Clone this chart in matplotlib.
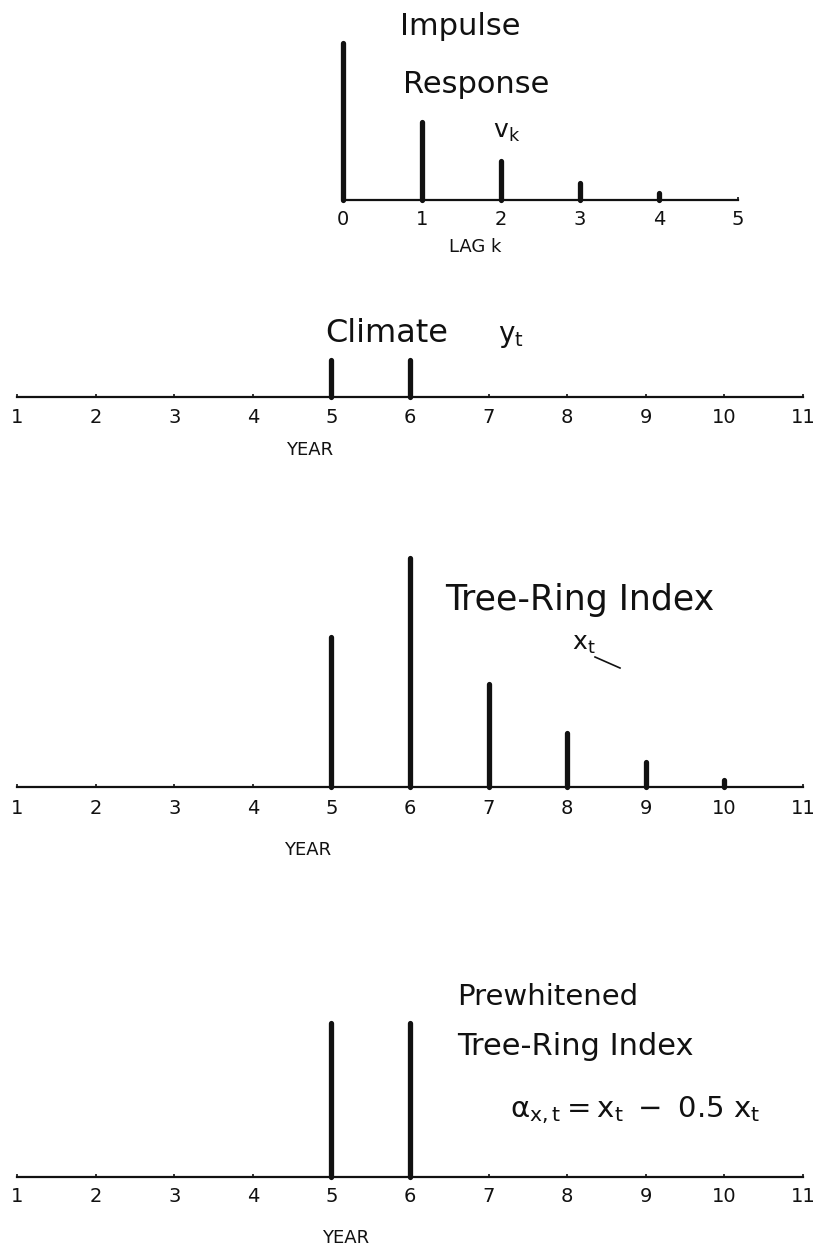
import matplotlib
matplotlib.use("Agg")
import matplotlib.pyplot as plt
from matplotlib.lines import Line2D

plt.rcParams['font.family'] = ['DejaVu Sans']
plt.rcParams['mathtext.fontset'] = 'dejavusans'
plt.rcParams['mathtext.default'] = 'regular'

# impulse response weights v_k
lags = [0, 1, 2, 3, 4]
impulse = [1.0, 0.5, 0.25, 0.11, 0.045]

# yearly series
years = [1, 2, 3, 4, 5, 6, 7, 8, 9, 10]
climate = [0, 0, 0, 0, 1.0, 1.0, 0, 0, 0, 0]
tree_ring = [0, 0, 0, 0, 1.0, 1.53, 0.69, 0.36, 0.17, 0.05]
prewhitened = [0, 0, 0, 0, 1.0, 1.0, 0, 0, 0, 0]

lag_ticks = [0, 1, 2, 3, 4, 5]
year_ticks = [1, 2, 3, 4, 5, 6, 7, 8, 9, 10, 11]

W, H = 817, 1248
INK = '#111111'

fig = plt.figure(figsize=(W / 100, H / 100), dpi=100)
fig.patch.set_facecolor('white')


def px(x, y):
    return x / W, 1 - y / H


def panel(x0, x1, y_base, y_top, xs, vals, ticks, pad):
    ax = fig.add_axes([x0 / W, 1 - y_base / H, (x1 - x0) / W, (y_base - y_top) / H])
    ax.set_xlim(ticks[0], ticks[-1])
    ax.set_ylim(0, max(vals))
    pts = [(x, v) for x, v in zip(xs, vals) if v > 0]
    ax.vlines([p[0] for p in pts], 0, [p[1] for p in pts], colors=INK,
              linewidth=3.8, capstyle='round', clip_on=False)
    for s in ['top', 'right', 'left']:
        ax.spines[s].set_visible(False)
    ax.spines['bottom'].set_linewidth(1.6)
    ax.spines['bottom'].set_color(INK)
    ax.set_yticks([])
    ax.set_xticks(ticks)
    ax.set_xticklabels([str(t) for t in ticks])
    ax.tick_params(axis='x', direction='in', length=2, width=1.2, color=INK,
                   labelsize=14, pad=pad, labelcolor=INK)
    ax.patch.set_alpha(0)
    return ax


def label(x, y, s, size, ha='left'):
    fig.text(*px(x, y), s, fontsize=size, ha=ha, va='baseline', color=INK)


# impulse response
panel(343, 738, 200, 43, lags, impulse, lag_ticks, 7)
label(400, 35, 'Impulse', 22)
label(403, 93, 'Response', 22)
label(493, 138, r'$v_k$', 18)
label(475, 252, 'LAG k', 13, ha='center')

# climate
panel(17, 803, 397, 360, years, climate, year_ticks, 8)
label(325, 342, 'Climate', 23)
label(498, 342, r'$y_t$', 20)
label(310, 455, 'YEAR', 13, ha='center')

# tree-ring index
panel(17, 803, 787, 558, years, tree_ring, year_ticks, 9)
label(445, 610, 'Tree-Ring Index', 25)
label(572, 650, r'$x_t$', 18)
fig.add_artist(Line2D([595 / W, 620 / W], [1 - 657 / H, 1 - 668 / H],
                      transform=fig.transFigure, color=INK, linewidth=1.2))
label(308, 855, 'YEAR', 13, ha='center')

# prewhitened tree-ring index
panel(17, 803, 1177, 1023, years, prewhitened, year_ticks, 7)
label(457, 1005, 'Prewhitened', 21)
label(457, 1055, 'Tree-Ring Index', 22)
label(510, 1117, r'$\alpha_{x,t} = x_t\ -\ 0.5\ x_t$', 21)
label(346, 1243, 'YEAR', 13, ha='center')

fig.savefig('out.png', dpi=100, facecolor='white')
